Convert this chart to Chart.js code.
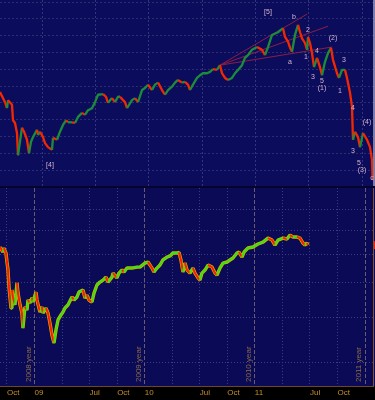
<!DOCTYPE html>
<html>
<head>
<meta charset="utf-8">
<script src="https://cdn.jsdelivr.net/npm/chart.js@4"></script>
<style>
  body { margin: 0; background: #000; }
  #wrap { position: relative; width: 375px; height: 400px; background: #04042c; overflow: hidden; }
  #topChart { position: absolute; left: 0; top: 0; }
  #lowChart { position: absolute; left: 0; top: 188px; }
</style>
</head>
<body>
<div id="wrap">
  <canvas id="topChart" width="375" height="186"></canvas>
  <canvas id="lowChart" width="375" height="212"></canvas>
</div>
<script>
// upper panel: wave count, x = trading day, y = index points
const topDays = [8.5,12.25,13.75,14.5,17.5,18.25,19.75,21.25,22,25,
  26.5,28.75,30.25,31.75,33.25,36.25,37,38.5,40.75,42.25,
  44.5,47.5,48.25,51.25,53.5,55.75,58,59.5,62.5,64.75,
  67,70,72.25,74.5,77.5,79.75,82,85.75,88,89.5,
  92.5,94.75,97,98.5,100.75,102.25,103.75,107.5,109.75,112,
  115,117.25,119.5,122.5,124.75,127,130,132.25,134.5,137.5,
  139.75,142,145,147.25,149.5,151,153.25,156.25,158.5,160.75,
  163.75,166,168.25,171.25,173.5,175,177.25,179.5,182.5,184.75,
  187,190,192.25,194.5,197.5,201.25,205,207.25,209.5,212.5,
  217,220.75,222.25,224.5,226,227.5,229.75,232,233.5,235,
  237.25,238.75,239.5,241,242.5,244,246.25,248.5,250,252.25,
  254.5,256.75,258.25,261.25,262.75,265,267.25,268.75,271,272.5,
  273.25,274.75,277,278.5,280.75,283.75,286,287.5,288]
const topClose = [1266,1251,1242,1254,1247,1224,1220,1205,1172,1213,
  1207,1195,1175,1192,1199,1210,1202,1207,1199,1190,
  1184,1180,1198,1195,1207,1217,1224,1221,1221,1220,
  1229,1235,1232,1239,1242,1251,1262,1263,1259,1250,
  1257,1251,1259,1259,1254,1251,1242,1254,1257,1251,
  1269,1272,1277,1269,1277,1280,1269,1262,1269,1274,
  1280,1284,1280,1281,1277,1269,1277,1287,1291,1294,
  1294,1296,1300,1299,1306,1294,1287,1284,1287,1294,
  1299,1306,1317,1321,1329,1333,1329,1321,1333,1351,
  1355,1361,1348,1341,1332,1326,1351,1366,1355,1346,
  1339,1329,1348,1339,1324,1303,1317,1303,1291,1311,
  1324,1332,1314,1294,1287,1299,1299,1287,1265,1244,
  1195,1207,1199,1184,1205,1195,1184,1165,1135]

// trend lines drawn from one start point
const trendStart = [173.5, 1306]
const trendEndDays = [238.75, 254.5, 257.5]
const trendEndLevels = [1382, 1364, 1333]

// wave labels
const waveText = ['[4]','[5]','b','a','2','1','4','3','5','(1)','(2)','3','1','4','(4)','3','5','(3)','c']
const waveDay = [46,209.5,229,226,239.5,238,246.25,243.25,250,250,258.25,266.5,263.5,273.25,283.75,273.25,277.75,280,287.5]
const waveLevel = [1157,1385,1378,1311,1358,1318,1327,1288,1282,1272,1346,1314,1268,1242,1221,1178,1160,1150,1138]

const topGridDays = [40,80,120,160,200,240,280]
const topGridLevels = [1150,1175,1200,1225,1250,1275,1300,1325,1350,1375,1400]

// lower panel: index, x = months from Oct 2008
const lowMonths = [-0.76,-0.44,-0.33,-0.11,0,0.11,0.22,0.44,0.54,0.65,
  0.87,1.09,1.2,1.42,1.63,1.74,1.96,2.18,2.29,2.51,
  2.72,2.83,3.16,3.27,3.59,3.81,3.92,4.25,4.47,4.68,
  4.9,5.12,5.34,5.56,5.88,6.1,6.32,6.64,7.08,7.3,
  7.63,7.84,8.28,8.5,8.71,8.93,9.26,9.48,9.8,10.13,
  10.46,10.78,11,11.44,11.55,11.98,12.2,12.53,12.75,13.07,
  13.62,14.16,14.49,15.03,15.36,15.8,16.01,16.34,16.67,16.99,
  17.43,17.76,18.08,18.52,18.74,18.95,19.17,19.39,19.61,19.93,
  20.26,20.48,20.81,21.02,21.24,21.57,21.9,22.33,22.66,22.88,
  23.2,23.53,23.97,24.29,24.62,25.05,25.27,25.6,25.82,26.25,
  26.8,27.34,27.89,28.43,28.87,29.19,29.52,30.07,30.5,30.83,
  31.15,31.59,31.92,32.24,32.46,32.68,32.79]
const lowClose = [1260,1220,1252,1212,1144,1086,973,850,955,913,
  867,999,936,867,823,747,856,839,895,878,
  907,884,942,895,828,856,823,850,823,772,
  714,678,738,787,813,828,850,867,913,895,
  913,942,955,907,924,895,884,936,986,1005,
  1018,1038,1005,1038,1065,1032,1065,1086,1072,1100,
  1100,1107,1107,1136,1144,1100,1072,1100,1122,1159,
  1181,1189,1212,1212,1217,1159,1072,1136,1086,1065,
  1100,1065,1032,1018,1065,1086,1122,1107,1065,1052,
  1100,1136,1144,1159,1174,1212,1220,1181,1220,1252,
  1260,1285,1301,1335,1318,1276,1318,1335,1327,1361,
  1344,1344,1335,1293,1276,1293,1276]

const lowTickMonths = [0,3,6,9,12,15,18,21,24,27,30,33,36,39]
const lowTickLabels = ['Oct','09','','Jul','Oct','10','','Jul','Oct','11','','Jul','Oct','']
const yearMonths = [3,15,27,39]
const yearLabels = ['2008 year','2009 year','2010 year','2011 year']
const lowGridLevels = [600,800,1000,1200,1400,1600]

const FONT = '"Liberation Sans", Arial, sans-serif'

// ---------- upper chart ----------
const topBg = {
  id: 'topBg',
  beforeDraw(chart) {
    const {ctx, chartArea, width, height} = chart
    ctx.save()
    ctx.fillStyle = '#0c0c5c'
    ctx.fillRect(0, 0, width, height)
    ctx.fillStyle = '#7c7ca6'
    ctx.fillRect(chartArea.right, 0, width - chartArea.right, height)
    ctx.restore()
  }
}

const waveLabels = {
  id: 'waveLabels',
  afterDatasetsDraw(chart) {
    const {ctx, scales} = chart
    ctx.save()
    ctx.font = '7px ' + FONT
    ctx.fillStyle = '#d2b4cc'
    ctx.textAlign = 'center'
    ctx.textBaseline = 'middle'
    waveText.forEach((t, i) => {
      ctx.fillText(t, scales.x.getPixelForValue(waveDay[i]), scales.y.getPixelForValue(waveLevel[i]))
    })
    ctx.restore()
  }
}

const trendSets = trendEndDays.map((d, i) => ({
  data: [{x: trendStart[0], y: trendStart[1]}, {x: d, y: trendEndLevels[i]}],
  borderColor: '#8c1e44',
  borderWidth: 1,
  pointRadius: 0
}))

new Chart(document.getElementById('topChart'), {
  type: 'line',
  data: {
    datasets: [{
      data: topDays.map((d, i) => ({x: d, y: topClose[i]})),
      borderWidth: 2.3,
      borderJoinStyle: 'bevel',
      pointRadius: 0,
      segment: {
        borderColor: c => c.p1.parsed.y >= c.p0.parsed.y ? '#1c8c3a' : '#f42800'
      }
    }, ...trendSets]
  },
  options: {
    responsive: false,
    animation: false,
    events: [],
    layout: { padding: { right: 2 } },
    plugins: { legend: { display: false }, tooltip: { enabled: false } },
    scales: {
      x: {
        type: 'linear', min: 8.5, max: 288.25,
        afterBuildTicks: s => { s.ticks = topGridDays.map(v => ({value: v})) },
        ticks: { display: false },
        grid: { color: '#34347a', drawTicks: false },
        border: { display: false, dash: [2, 2] }
      },
      y: {
        type: 'linear', min: 1126.2, max: 1403,
        afterBuildTicks: s => { s.ticks = topGridLevels.map(v => ({value: v})) },
        ticks: { display: false },
        grid: { color: '#2c2c72', drawTicks: false },
        border: { display: false, dash: [2, 2] }
      }
    }
  },
  plugins: [topBg, waveLabels]
})

// ---------- lower chart ----------
const lowBg = {
  id: 'lowBg',
  beforeDraw(chart) {
    const {ctx, chartArea, width, height} = chart
    ctx.save()
    ctx.fillStyle = '#000'
    ctx.fillRect(0, 0, width, height)
    ctx.fillStyle = '#0a0a56'
    ctx.fillRect(0, chartArea.top, width, chartArea.bottom - chartArea.top)
    ctx.restore()
  }
}

const yearText = {
  id: 'yearText',
  beforeDatasetsDraw(chart) {
    const {ctx, scales, chartArea} = chart
    ctx.save()
    ctx.font = '8px ' + FONT
    ctx.fillStyle = '#8c6c44'
    ctx.textAlign = 'left'
    ctx.textBaseline = 'bottom'
    yearMonths.forEach((m, i) => {
      ctx.save()
      ctx.translate(scales.x.getPixelForValue(m) - 2, chartArea.bottom - 4)
      ctx.rotate(-Math.PI / 2)
      ctx.fillText(yearLabels[i], 0, 0)
      ctx.restore()
    })
    ctx.restore()
  },
  afterDraw(chart) {
    const {ctx, scales, chartArea} = chart
    const y = scales.y.getPixelForValue(lowClose[lowClose.length - 1])
    ctx.save()
    ctx.fillStyle = '#e82000'
    ctx.fillRect(chartArea.right + 1, y - 4, 2, 8)
    ctx.restore()
  }
}

const isYear = c => c.tick && yearMonths.includes(c.tick.value)

new Chart(document.getElementById('lowChart'), {
  type: 'line',
  data: {
    datasets: [{
      // coloured bars on top
      data: lowMonths.map((m, i) => ({x: m, y: lowClose[i]})),
      borderWidth: 2,
      borderJoinStyle: 'bevel',
      pointRadius: 0,
      order: 0,
      segment: {
        borderColor: c => c.p1.parsed.y >= c.p0.parsed.y ? '#3ee014' : '#ff1a00'
      }
    }, {
      // yellow edge underneath
      data: lowMonths.map((m, i) => ({x: m, y: lowClose[i]})),
      borderColor: '#c8b400',
      borderWidth: 3.4,
      borderJoinStyle: 'bevel',
      pointRadius: 0,
      order: 1
    }]
  },
  options: {
    responsive: false,
    animation: false,
    events: [],
    layout: { padding: { right: 2 } },
    plugins: { legend: { display: false }, tooltip: { enabled: false } },
    scales: {
      x: {
        type: 'linear', min: -0.76, max: 39.87,
        afterBuildTicks: s => { s.ticks = lowTickMonths.map(v => ({value: v})) },
        afterFit: s => { s.height = 14 },
        ticks: {
          autoSkip: false, maxRotation: 0, align: 'start', padding: 2,
          color: '#c88e2c', font: { size: 8, family: FONT },
          callback: (v, i) => lowTickLabels[i]
        },
        grid: { color: c => isYear(c) ? '#6a5a70' : '#3c3c84', drawTicks: false },
        border: { display: true, color: '#6e4620', dash: c => isYear(c) ? [4, 2] : [1, 2] }
      },
      y: {
        type: 'logarithmic', position: 'right', min: 514, max: 1844,
        afterBuildTicks: s => { s.ticks = lowGridLevels.map(v => ({value: v})) },
        ticks: { display: false },
        grid: { color: '#3c3c84', drawTicks: false },
        border: { display: true, color: '#8a5422', dash: [1, 2] }
      }
    }
  },
  plugins: [lowBg, yearText]
})
</script>
</body>
</html>
